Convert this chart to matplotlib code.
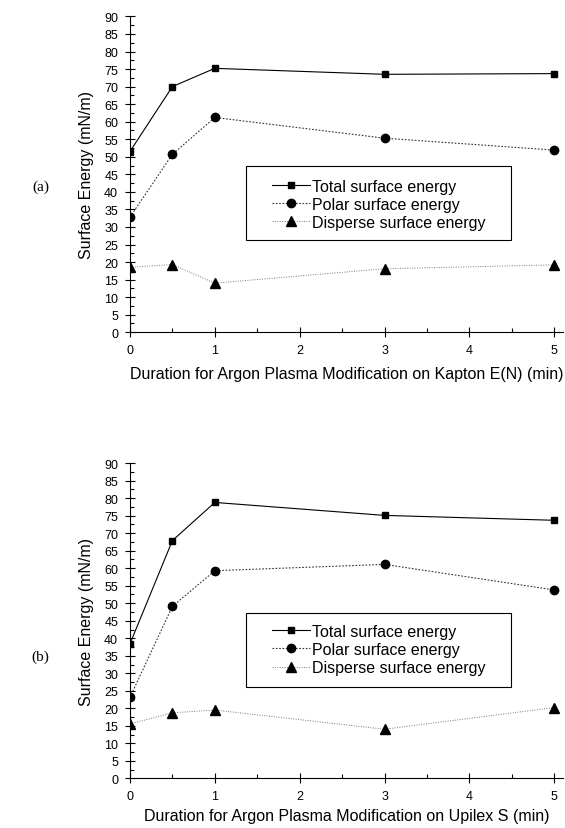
import matplotlib
matplotlib.use("Agg")
import matplotlib.pyplot as plt
from matplotlib.patches import Rectangle
from matplotlib.ticker import MultipleLocator

plt.rcParams['font.family'] = ['Liberation Sans', 'DejaVu Sans']

minutes = [0, 0.5, 1, 3, 5]

# (a) Kapton E(N)
total_a = [51.5, 70.0, 75.2, 73.5, 73.7]
polar_a = [32.8, 50.7, 61.2, 55.3, 51.9]
disperse_a = [18.5, 19.3, 14.0, 18.1, 19.2]

# (b) Upilex S
total_b = [38.4, 67.9, 78.8, 75.1, 73.7]
polar_b = [23.1, 49.1, 59.3, 61.1, 53.8]
disperse_b = [15.5, 18.7, 19.5, 14.0, 20.2]

labels = ["Total surface energy", "Polar surface energy", "Disperse surface energy"]
xlabels = ["Duration for Argon Plasma Modification on Kapton E(N) (min)",
           "Duration for Argon Plasma Modification on Upilex S (min)"]

fig = plt.figure(figsize=(5.65, 8.29), dpi=100)
ax_a = fig.add_axes([0.230, 0.598, 0.766, 0.381])
ax_b = fig.add_axes([0.230, 0.060, 0.766, 0.380])


def draw(ax, total, polar, disperse, xlabel, xpad, tag, tag_y, leg_y):
    ax.plot(minutes, total, '-', color='black', lw=0.8, marker='s', ms=5, label=labels[0])
    ax.plot(minutes, polar, linestyle=(0, (1.5, 1.5)), color='#333333', lw=0.8,
            marker='o', ms=6, mfc='black', mec='black', label=labels[1])
    ax.plot(minutes, disperse, linestyle=(0, (1, 1.5)), color='#777777', lw=0.7,
            marker='^', ms=6.5, mfc='black', mec='black', label=labels[2])
    ax.set_xlim(0, 5.1)
    ax.set_ylim(0, 90)
    ax.xaxis.set_major_locator(MultipleLocator(1))
    ax.xaxis.set_minor_locator(MultipleLocator(0.5))
    ax.yaxis.set_major_locator(MultipleLocator(5))
    ax.yaxis.set_minor_locator(MultipleLocator(2.5))
    ax.tick_params(which='major', direction='inout', length=7, width=0.8, labelsize=9, pad=5)
    ax.tick_params(which='minor', direction='in', length=3, width=0.8)
    ax.spines['top'].set_visible(False)
    ax.spines['right'].set_visible(False)
    ax.set_xlabel(xlabel, fontsize=11.5, labelpad=xpad)
    ax.set_ylabel("Surface Energy (mN/m)", fontsize=11.5, labelpad=7)

    ax.add_patch(Rectangle((0.268, 0.291), 0.612, 0.234, transform=ax.transAxes,
                           fill=False, ec='black', lw=0.8, zorder=5))
    ax.legend(loc='center left', bbox_to_anchor=(0.328, leg_y), frameon=False,
              fontsize=11.5, handlelength=2.4, handletextpad=0.1, borderpad=0,
              borderaxespad=0, labelspacing=0.2)
    fig.text(0.072, tag_y, tag, fontsize=11,
             family='Liberation Serif', va='center', ha='center')


draw(ax_a, total_a, polar_a, disperse_a, xlabels[0], 7, "(a)", 1 - 187 / 829, 0.405)
draw(ax_b, total_b, polar_b, disperse_b, xlabels[1], 4, "(b)", 1 - 657 / 829, 0.409)

fig.savefig("out.png", dpi=100)
